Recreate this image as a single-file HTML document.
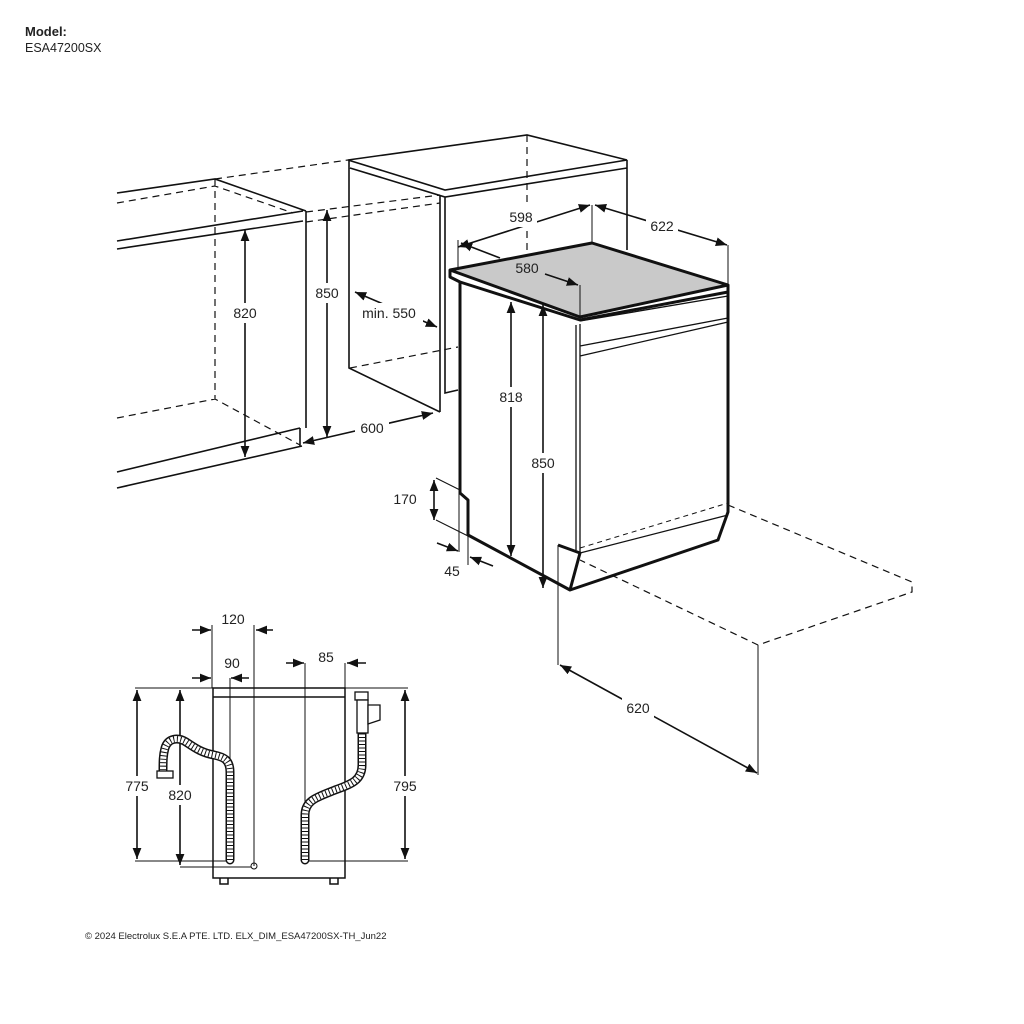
<!DOCTYPE html>
<html><head><meta charset="utf-8"><style>
html,body{margin:0;padding:0;background:#fff}
svg{display:block}
text{font-family:"Liberation Sans",sans-serif;fill:#222}
.d{font-size:14px;text-anchor:middle}
</style></head><body>
<svg width="1024" height="1024" viewBox="0 0 1024 1024" xmlns="http://www.w3.org/2000/svg">
<defs>
<marker id="a" viewBox="0 0 10 10" refX="10" refY="5" markerWidth="7" markerHeight="7" orient="auto-start-reverse"><path d="M0,1 L10,5 L0,9 z" fill="#111"/></marker>
</defs>
<text x="25" y="36" font-size="13" font-weight="bold" fill="#111">Model:</text>
<text x="25" y="52" font-size="12.5">ESA47200SX</text>
<text x="85" y="939" font-size="9.5">© 2024 Electrolux S.E.A PTE. LTD.  ELX_DIM_ESA47200SX-TH_Jun22</text>

<g fill="none" stroke="#111" stroke-width="1.6">
<path d="M117,193 L215,179 L306,211 M117,241 L303,211 M117,249 L303,221 M306,211 L306,428 M117,472 L300,428 M117,488 L302,446 M300,428 L300,446"/>
<path d="M348,160 L527,135 L627,160 L445,190 Z M350,168 L445,197 L627,168 M349,160 L349,368 L440,412 M440,196 L440,412 M445,197 L445,393 L458,390 M627,160 L627,250"/>
</g>
<g fill="none" stroke="#111" stroke-width="1.2" stroke-dasharray="7,5">
<path d="M215,179 L215,399 M117,418 L215,399 L300,445 M117,203 L215,186 L293,213 M215,179 L348,160 M306,212 L440,195 M306,222 L440,203 M527,135 L527,250 M350,368 L458,347"/>
<path d="M728,505 L912,582 L912,592 L758,645 L580,560"/>
</g>
<line x1="758" y1="645" x2="758" y2="775" stroke="#111" stroke-width="1"/>
<line x1="558" y1="545" x2="558" y2="665" stroke="#111" stroke-width="1"/>

<polygon points="450,270 592,243 728,285 580,317" fill="#c9c9c9" stroke="#111" stroke-width="3" stroke-linejoin="round"/>
<g fill="none" stroke="#111" stroke-width="3" stroke-linejoin="round">
<path d="M450,270 L450,277 L460,282 L580,320 L728,292 L728,285"/>
<path d="M460,282 L460,493 L468,500 L468,535 L570,590 L718,540 L728,512 L728,285"/>
<path d="M558,545 L580,553 L570,590"/>
</g>
<g fill="none" stroke="#111" stroke-width="1.3">
<path d="M576,325 L576,550 M580,324 L580,553 M580,356 L728,322 M580,346 L728,318 M580,553 L728,515 M580,321 L728,296"/>
</g>
<path d="M580,548 L728,503" fill="none" stroke="#111" stroke-width="1" stroke-dasharray="5,4"/>

<g stroke="#111" stroke-width="1" fill="none">
<path d="M592,205 L592,243 M728,245 L728,285 M458,240 L458,270 M580,285 L580,317 M436,478 L460,490 M436,520 L468,536 M459,490 L459,552 M468,500 L468,565"/>
<path d="M212,625 L212,688 M254,625 L254,866 M230,678 L230,860 M305,663 L305,860 M345,663 L345,688"/>
</g>

<g stroke="#111" stroke-width="1.6" fill="none" marker-start="url(#a)" marker-end="url(#a)">
<path d="M245,230 L245,457"/>
<path d="M327,210 L327,437"/>
<path d="M303,443 L433,413"/>
<path d="M355,292 L437,327"/>
<path d="M458,247 L590,205"/>
<path d="M595,205 L727,245"/>
<path d="M511,302 L511,556"/>
<path d="M543,305 L543,588"/>
<path d="M434,480 L434,520"/>
<path d="M560,665 L757,773"/>
<path d="M137,690 L137,859"/>
<path d="M180,690 L180,865"/>
<path d="M405,690 L405,859"/>
</g>
<g stroke="#111" stroke-width="1.6" fill="none" marker-end="url(#a)">
<path d="M500,258 L461,243"/><path d="M545,274 L578,285"/>
<path d="M437,543 L458,551"/><path d="M493,566 L470,557"/>
<path d="M192,630 L211,630"/><path d="M273,630 L256,630"/>
<path d="M192,678 L211,678"/><path d="M249,678 L231,678"/>
<path d="M286,663 L304,663"/><path d="M366,663 L347,663"/>
</g>
<g fill="#fff">
<rect x="230" y="303" width="30" height="20"/><rect x="312" y="283" width="30" height="20"/>
<rect x="355" y="418" width="34" height="20"/><rect x="355" y="303" width="68" height="20"/>
<rect x="505" y="207" width="32" height="20"/><rect x="646" y="216" width="32" height="20"/>
<rect x="496" y="387" width="30" height="20"/><rect x="528" y="453" width="30" height="20"/>
<rect x="622" y="698" width="32" height="20"/>
<rect x="122" y="776" width="30" height="20"/><rect x="165" y="785" width="30" height="20"/><rect x="390" y="776" width="30" height="20"/>
</g>
<text class="d" x="245" y="318">820</text>
<text class="d" x="327" y="298">850</text>
<text class="d" x="372" y="433">600</text>
<text class="d" x="389" y="318">min. 550</text>
<text class="d" x="521" y="222">598</text>
<text class="d" x="662" y="231">622</text>
<text class="d" x="527" y="273">580</text>
<text class="d" x="511" y="402">818</text>
<text class="d" x="543" y="468">850</text>
<text class="d" x="405" y="504">170</text>
<text class="d" x="452" y="576">45</text>
<text class="d" x="638" y="713">620</text>

<g fill="none" stroke="#111" stroke-width="1.5">
<rect x="213" y="688" width="132" height="190"/>
<path d="M213,697 L345,697"/>
<path d="M220,878 L220,884 L228,884 L228,878 M330,878 L330,884 L338,884 L338,878"/>
</g>
<g stroke="#111" stroke-width="1" fill="none">
<path d="M135,688 L408,688 M135,861 L230,861 M305,861 L408,861 M180,867 L251,867"/>
<circle cx="254" cy="866" r="3"/>
</g>
<g fill="none" stroke-linecap="round">
<path d="M230,860 L230,772 C230,760 224,757 214,755 C202,753 195,748 186,742 C178,737 168,738 165,748 C163,755 163,762 163,770" stroke="#111" stroke-width="9"/>
<path d="M230,860 L230,772 C230,760 224,757 214,755 C202,753 195,748 186,742 C178,737 168,738 165,748 C163,755 163,762 163,770" stroke="#fff" stroke-width="6"/>
<path d="M230,860 L230,772 C230,760 224,757 214,755 C202,753 195,748 186,742 C178,737 168,738 165,748 C163,755 163,762 163,770" stroke="#111" stroke-width="6" stroke-dasharray="1,2.5" stroke-linecap="butt"/>
<path d="M305,860 L305,815 C305,800 318,797 335,790 C352,784 362,780 362,765 L362,733" stroke="#111" stroke-width="9"/>
<path d="M305,860 L305,815 C305,800 318,797 335,790 C352,784 362,780 362,765 L362,733" stroke="#fff" stroke-width="6"/>
<path d="M305,860 L305,815 C305,800 318,797 335,790 C352,784 362,780 362,765 L362,733" stroke="#111" stroke-width="6" stroke-dasharray="1,2.5" stroke-linecap="butt"/>
</g>
<g fill="#fff" stroke="#111" stroke-width="1.3">
<rect x="157" y="771" width="16" height="7"/>
<rect x="355" y="692" width="13" height="8"/>
<rect x="357" y="700" width="11" height="33"/>
<path d="M368,705 L380,705 L380,720 L368,724 Z"/>
</g>
<text class="d" x="137" y="791">775</text>
<text class="d" x="180" y="800">820</text>
<text class="d" x="405" y="791">795</text>
<text class="d" x="233" y="624">120</text>
<text class="d" x="232" y="668">90</text>
<text class="d" x="326" y="662">85</text>
</svg>
</body></html>
